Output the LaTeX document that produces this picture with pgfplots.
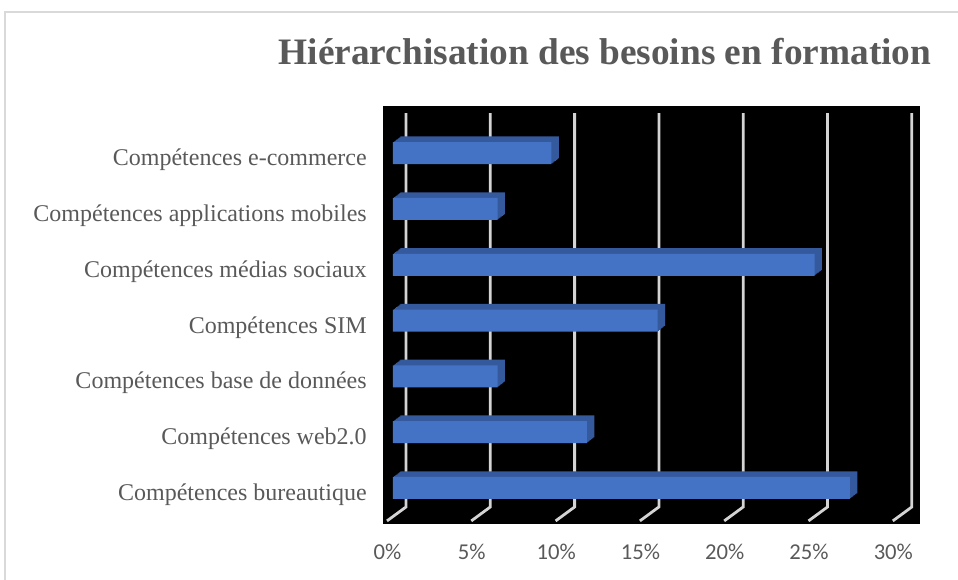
\documentclass[border=0pt]{standalone}
\usepackage{fontspec}
\setmainfont{Liberation Serif}
\newfontfamily\tickfont{Carlito}
\usepackage{pgfplots}
\pgfplotsset{compat=1.18}
\usepackage{pgfplotstable}
\definecolor{txt}{HTML}{595959}
\definecolor{barfront}{HTML}{4472C4}
\definecolor{barside}{HTML}{35599D}
\definecolor{gridc}{HTML}{D4D4D4}
\definecolor{framec}{HTML}{D9D9D9}

\pgfplotstableread{
y val
0 27.1
1 11.5
2 6.2
3 15.7
4 25.0
5 6.2
6 9.4
}\data

\begin{document}
\begin{tikzpicture}
\path[use as bounding box] (0pt,0pt) rectangle (718.5pt,435pt);
\draw[framec, line width=1.3pt] (3.75pt,0pt) -- (3.75pt,426pt) -- (718.5pt,426pt);
\node[anchor=base, text=txt, font=\fontsize{28}{32}\selectfont\bfseries] at (453.75pt,386.25pt) {Hiérarchisation des besoins en formation};
\begin{axis}[
  at={(287.25pt,41.625pt)}, anchor=south west,
  scale only axis, width=402.75pt, height=313.5pt,
  xmin=-0.593, xmax=31.257, ymin=-0.654, ymax=6.837,
  axis background/.style={fill=black},
  axis line style={draw=none},
  tick style={draw=none},
  xtick={0,5,...,30},
  xticklabels={0\%,5\%,10\%,15\%,20\%,25\%,30\%},
  xticklabel style={anchor=base, inner sep=0pt, xshift=-4.1pt, yshift=-25.9pt, font=\tickfont\fontsize{17}{20}\selectfont, text=txt},
  ytick={0,...,6},
  yticklabels={Compétences bureautique, Compétences web2.0, Compétences base de données, Compétences SIM, Compétences médias sociaux, Compétences applications mobiles, Compétences e-commerce},
  yticklabel style={anchor=base east, inner sep=0pt, xshift=-12pt, yshift=-9.4pt, font=\fontsize{18}{22}\selectfont, text=txt},
  clip=true,
]
\addplot[gridc, line width=2.1pt, forget plot] coordinates {(0.771,6.72) (0.771,-0.34) (-0.356,-0.59)};
\addplot[gridc, line width=2.1pt, forget plot] coordinates {(5.771,6.72) (5.771,-0.34) (4.644,-0.59)};
\addplot[gridc, line width=2.1pt, forget plot] coordinates {(10.771,6.72) (10.771,-0.34) (9.644,-0.59)};
\addplot[gridc, line width=2.1pt, forget plot] coordinates {(15.771,6.72) (15.771,-0.34) (14.644,-0.59)};
\addplot[gridc, line width=2.1pt, forget plot] coordinates {(20.771,6.72) (20.771,-0.34) (19.644,-0.59)};
\addplot[gridc, line width=2.1pt, forget plot] coordinates {(25.771,6.72) (25.771,-0.34) (24.644,-0.59)};
\addplot[gridc, line width=2.1pt, forget plot] coordinates {(30.771,6.72) (30.771,-0.34) (29.644,-0.59)};
\addplot[xbar, bar width=16.5pt, bar shift=0pt, fill=barside, draw=none, xshift=0.8pt, yshift=0.6pt, forget plot] table[x=val,y=y]{\data};
\addplot[xbar, bar width=16.5pt, bar shift=0pt, fill=barside, draw=none, xshift=1.6pt, yshift=1.2pt, forget plot] table[x=val,y=y]{\data};
\addplot[xbar, bar width=16.5pt, bar shift=0pt, fill=barside, draw=none, xshift=2.4pt, yshift=1.85pt, forget plot] table[x=val,y=y]{\data};
\addplot[xbar, bar width=16.5pt, bar shift=0pt, fill=barside, draw=none, xshift=3.2pt, yshift=2.45pt, forget plot] table[x=val,y=y]{\data};
\addplot[xbar, bar width=16.5pt, bar shift=0pt, fill=barside, draw=none, xshift=4.0pt, yshift=3.05pt, forget plot] table[x=val,y=y]{\data};
\addplot[xbar, bar width=16.5pt, bar shift=0pt, fill=barside, draw=none, xshift=4.8pt, yshift=3.7pt, forget plot] table[x=val,y=y]{\data};
\addplot[xbar, bar width=16.5pt, bar shift=0pt, fill=barside, draw=none, xshift=5.6pt, yshift=4.3pt, forget plot] table[x=val,y=y]{\data};
\addplot[xbar, bar width=16.5pt, bar shift=0pt, fill=barfront, draw=none] table[x=val,y=y]{\data};
\end{axis}
\end{tikzpicture}
\end{document}
